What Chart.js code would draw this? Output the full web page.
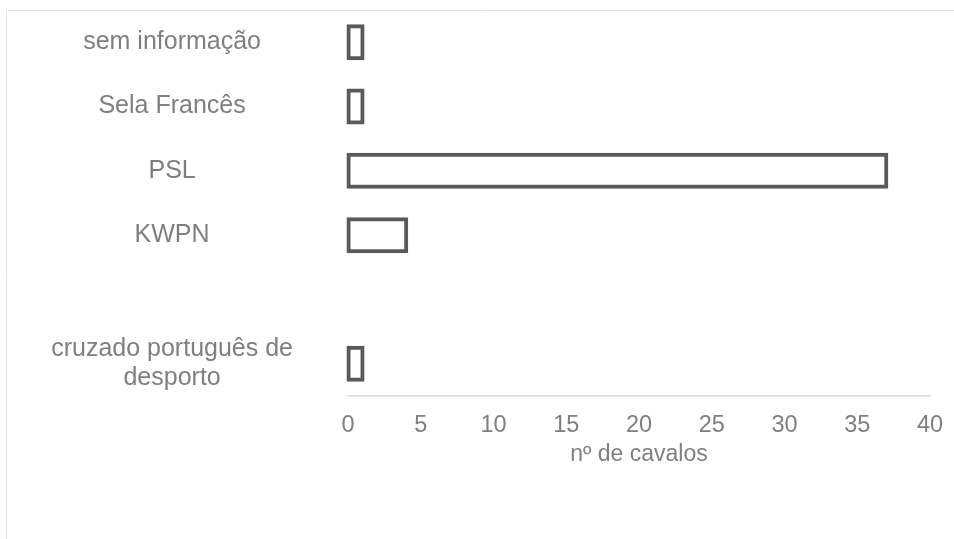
<!DOCTYPE html>
<html>
<head>
<meta charset="utf-8">
<title>Raças de cavalos</title>
<script src="https://cdn.jsdelivr.net/npm/chart.js@4/dist/chart.umd.min.js"></script>
<style>
  html, body { margin: 0; padding: 0; background: #ffffff; }
  #wrap { position: relative; width: 954px; height: 539px; }
</style>
</head>
<body>
<div id="wrap"><canvas id="chart" width="954" height="539"></canvas></div>
<script>
// Breeds (top to bottom); the blank entry keeps an empty row before the last one
const breeds = [
  'sem informação',
  'Sela Francês',
  'PSL',
  'KWPN',
  '',
  ['cruzado português de', 'desporto']
];
// Number of horses per breed
const horseCounts = [1, 1, 37, 4, null, 1];
// Value axis range and step
const axisMin = 0;
const axisMax = 40;
const axisStep = 5;
const axisTitle = 'nº de cavalos';

const textGrey = '#7f7f7f';
const fontFamily = "'Liberation Sans', Arial, sans-serif";

// Thin light frame around the plot region
const framePlugin = {
  id: 'frame',
  beforeDraw(chart) {
    const ctx = chart.ctx;
    ctx.save();
    ctx.strokeStyle = '#e2e2e2';
    ctx.lineWidth = 1;
    ctx.beginPath();
    ctx.moveTo(6.5, chart.height);
    ctx.lineTo(6.5, 10.5);
    ctx.lineTo(chart.width, 10.5);
    ctx.stroke();
    ctx.restore();
  }
};

new Chart(document.getElementById('chart'), {
  type: 'bar',
  data: {
    labels: breeds,
    datasets: [{
      label: axisTitle,
      data: horseCounts,
      backgroundColor: '#ffffff',
      borderColor: '#595959',
      borderWidth: 4,
      borderSkipped: false,
      inflateAmount: 2,
      barThickness: 32,
      clip: false
    }]
  },
  options: {
    indexAxis: 'y',
    responsive: false,
    animation: false,
    devicePixelRatio: 1,
    layout: { padding: { left: 0, right: 24, top: 10, bottom: 0 } },
    plugins: {
      legend: { display: false },
      tooltip: { enabled: false }
    },
    scales: {
      x: {
        min: axisMin,
        max: axisMax,
        grid: { display: true, drawOnChartArea: false, drawTicks: false },
        border: { display: true, color: '#d9d9d9', width: 1.5 },
        ticks: {
          stepSize: axisStep,
          color: textGrey,
          padding: 15,
          font: { family: fontFamily, size: 23.5 }
        },
        title: {
          display: true,
          text: axisTitle,
          color: textGrey,
          padding: { top: 0, bottom: 71 },
          font: { family: fontFamily, size: 23 }
        },
        afterFit(scale) {
          scale.height = 143;
          scale.paddingLeft = 0;
          scale.paddingRight = 0;
        }
      },
      y: {
        grid: { display: false },
        border: { display: false },
        ticks: {
          autoSkip: false,
          color: textGrey,
          crossAlign: 'center',
          padding: 47,
          font: { family: fontFamily, size: 25, lineHeight: 1.15 }
        },
        afterFit(scale) {
          scale.width = 348;
          scale.paddingTop = 0;
          scale.paddingBottom = 0;
        }
      }
    }
  },
  plugins: [framePlugin]
});
</script>
</body>
</html>
